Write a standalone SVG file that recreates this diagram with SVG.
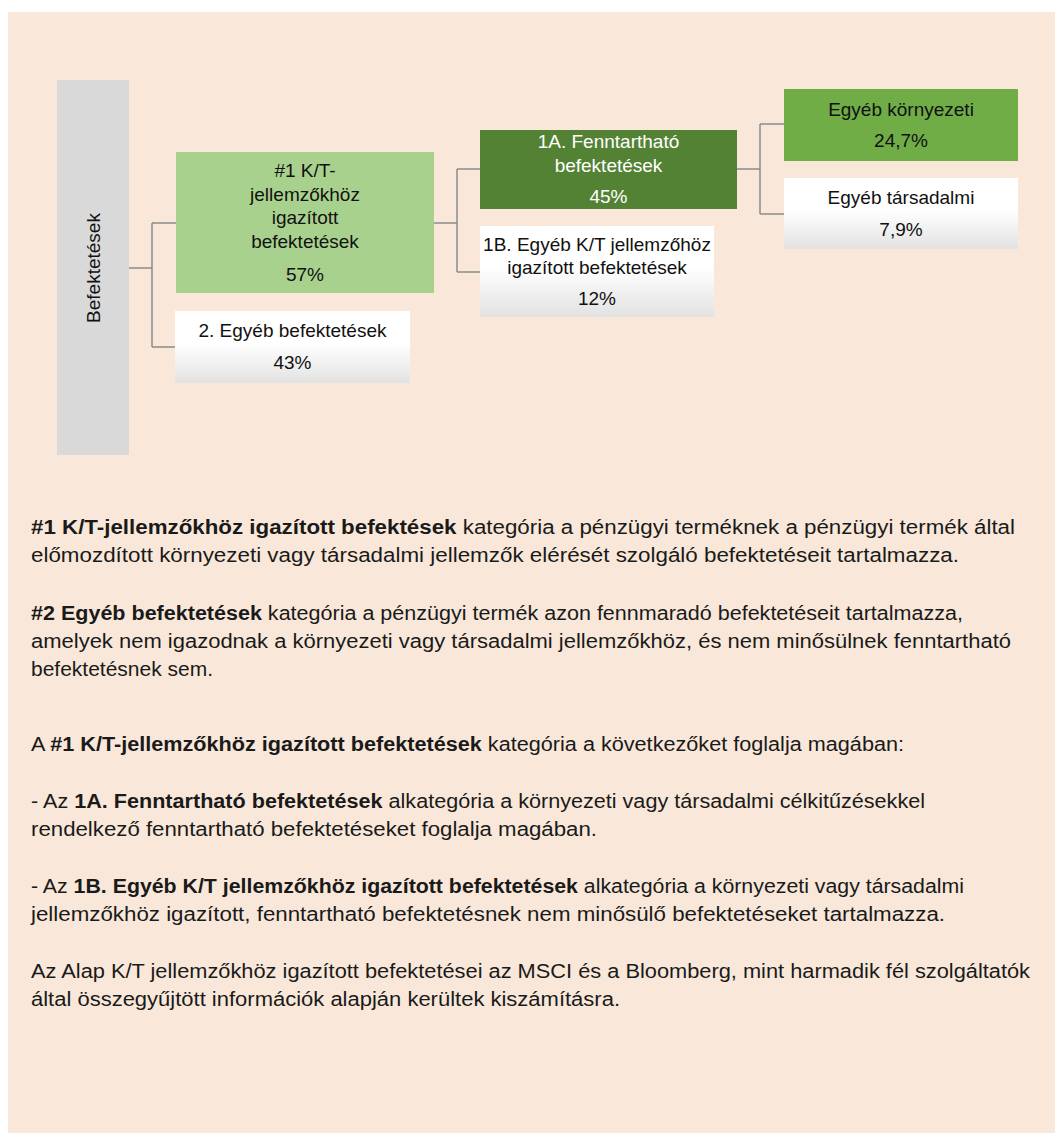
<svg xmlns="http://www.w3.org/2000/svg" width="1055" height="1133" viewBox="0 0 1055 1133">
  <defs>
    <linearGradient id="wg" x1="0" y1="0" x2="0" y2="1">
      <stop offset="0" stop-color="#ffffff"/>
      <stop offset="0.45" stop-color="#ffffff"/>
      <stop offset="1" stop-color="#e2e2e2"/>
    </linearGradient>
    <style>
      .bt { font-family: "Liberation Sans", Arial, sans-serif; font-size: 19px; fill: #111; text-anchor: middle; }
      .wt { fill: #ffffff; }
      .body { font-family: "Liberation Sans", Arial, sans-serif; font-size: 19.5px; fill: #1a1a1a; }
      .b { font-weight: bold; }
      .conn { stroke: #8a8a8a; stroke-width: 1.5; fill: none; }
    </style>
  </defs>
  <rect x="8" y="12" width="1047" height="1121" fill="#f9e8d9"/>

  <g id="connectors">
    <path class="conn" d="M129,268 H152 M152,223 V347 M152,223 H176 M152,347 H175"/>
    <path class="conn" d="M434,223 H457 M457,169 V272 M457,169 H480 M457,272 H480"/>
    <path class="conn" d="M737,169 H760 M760,124 V214 M760,124 H784 M760,214 H784"/>
  </g>

  <g id="node-befektetesek">
    <rect x="57" y="80" width="72" height="375" fill="#d9d9d9"/>
    <text class="bt" transform="translate(100,268) rotate(-90)">Befektetések</text>
  </g>

  <g id="node-kt">
    <rect x="176" y="152" width="258" height="141" fill="#a9d18e"/>
    <text class="bt" x="305" y="177">#1 K/T-</text>
    <text class="bt" x="305" y="201">jellemzőkhöz</text>
    <text class="bt" x="305" y="224">igazított</text>
    <text class="bt" x="305" y="248">befektetések</text>
    <text class="bt" x="305" y="281">57%</text>
  </g>

  <g id="node-egyeb">
    <rect x="175" y="311" width="235" height="72" fill="url(#wg)"/>
    <text class="bt" x="292.5" y="337">2. Egyéb befektetések</text>
    <text class="bt" x="292.5" y="369">43%</text>
  </g>

  <g id="node-1a">
    <rect x="480" y="130" width="257" height="79" fill="#548235"/>
    <text class="bt wt" x="608.5" y="148">1A. Fenntartható</text>
    <text class="bt wt" x="608.5" y="172">befektetések</text>
    <text class="bt wt" x="608.5" y="203">45%</text>
  </g>

  <g id="node-1b">
    <rect x="480" y="226" width="234" height="91" fill="url(#wg)"/>
    <text class="bt" x="597" y="251">1B. Egyéb K/T jellemzőhöz</text>
    <text class="bt" x="597" y="274">igazított befektetések</text>
    <text class="bt" x="597" y="305">12%</text>
  </g>

  <g id="node-kornyezeti">
    <rect x="784" y="89" width="234" height="72" fill="#70ad47"/>
    <text class="bt" x="901" y="116">Egyéb környezeti</text>
    <text class="bt" x="901" y="147">24,7%</text>
  </g>

  <g id="node-tarsadalmi">
    <rect x="784" y="178" width="234" height="71" fill="url(#wg)"/>
    <text class="bt" x="901" y="204">Egyéb társadalmi</text>
    <text class="bt" x="901" y="236">7,9%</text>
  </g>

  <g id="description">
    <text class="body" x="31" y="534" textLength="984" lengthAdjust="spacingAndGlyphs"><tspan class="b">#1 K/T-jellemzőkhöz igazított befektések</tspan> kategória a pénzügyi terméknek a pénzügyi termék által</text>
    <text class="body" x="31" y="562" textLength="928" lengthAdjust="spacingAndGlyphs">előmozdított környezeti vagy társadalmi jellemzők elérését szolgáló befektetéseit tartalmazza.</text>
    <text class="body" x="31" y="620" textLength="932" lengthAdjust="spacingAndGlyphs"><tspan class="b">#2 Egyéb befektetések</tspan> kategória a pénzügyi termék azon fennmaradó befektetéseit tartalmazza,</text>
    <text class="body" x="31" y="648" textLength="980" lengthAdjust="spacingAndGlyphs">amelyek nem igazodnak a környezeti vagy társadalmi jellemzőkhöz, és nem minősülnek fenntartható</text>
    <text class="body" x="31" y="676" textLength="182" lengthAdjust="spacingAndGlyphs">befektetésnek sem.</text>
    <text class="body" x="31" y="751" textLength="873" lengthAdjust="spacingAndGlyphs">A <tspan class="b">#1 K/T-jellemzőkhöz igazított befektetések</tspan> kategória a következőket foglalja magában:</text>
    <text class="body" x="31" y="808" textLength="894" lengthAdjust="spacingAndGlyphs">- Az <tspan class="b">1A. Fenntartható befektetések</tspan> alkategória a környezeti vagy társadalmi célkitűzésekkel</text>
    <text class="body" x="31" y="836" textLength="566" lengthAdjust="spacingAndGlyphs">rendelkező fenntartható befektetéseket foglalja magában.</text>
    <text class="body" x="31" y="893" textLength="933" lengthAdjust="spacingAndGlyphs">- Az <tspan class="b">1B. Egyéb K/T jellemzőkhöz igazított befektetések</tspan> alkategória a környezeti vagy társadalmi</text>
    <text class="body" x="31" y="921" textLength="914" lengthAdjust="spacingAndGlyphs">jellemzőkhöz igazított, fenntartható befektetésnek nem minősülő befektetéseket tartalmazza.</text>
    <text class="body" x="31" y="978" textLength="999" lengthAdjust="spacingAndGlyphs">Az Alap K/T jellemzőkhöz igazított befektetései az MSCI és a Bloomberg, mint harmadik fél szolgáltatók</text>
    <text class="body" x="31" y="1006" textLength="589" lengthAdjust="spacingAndGlyphs">által összegyűjtött információk alapján kerültek kiszámításra.</text>
  </g>
</svg>
